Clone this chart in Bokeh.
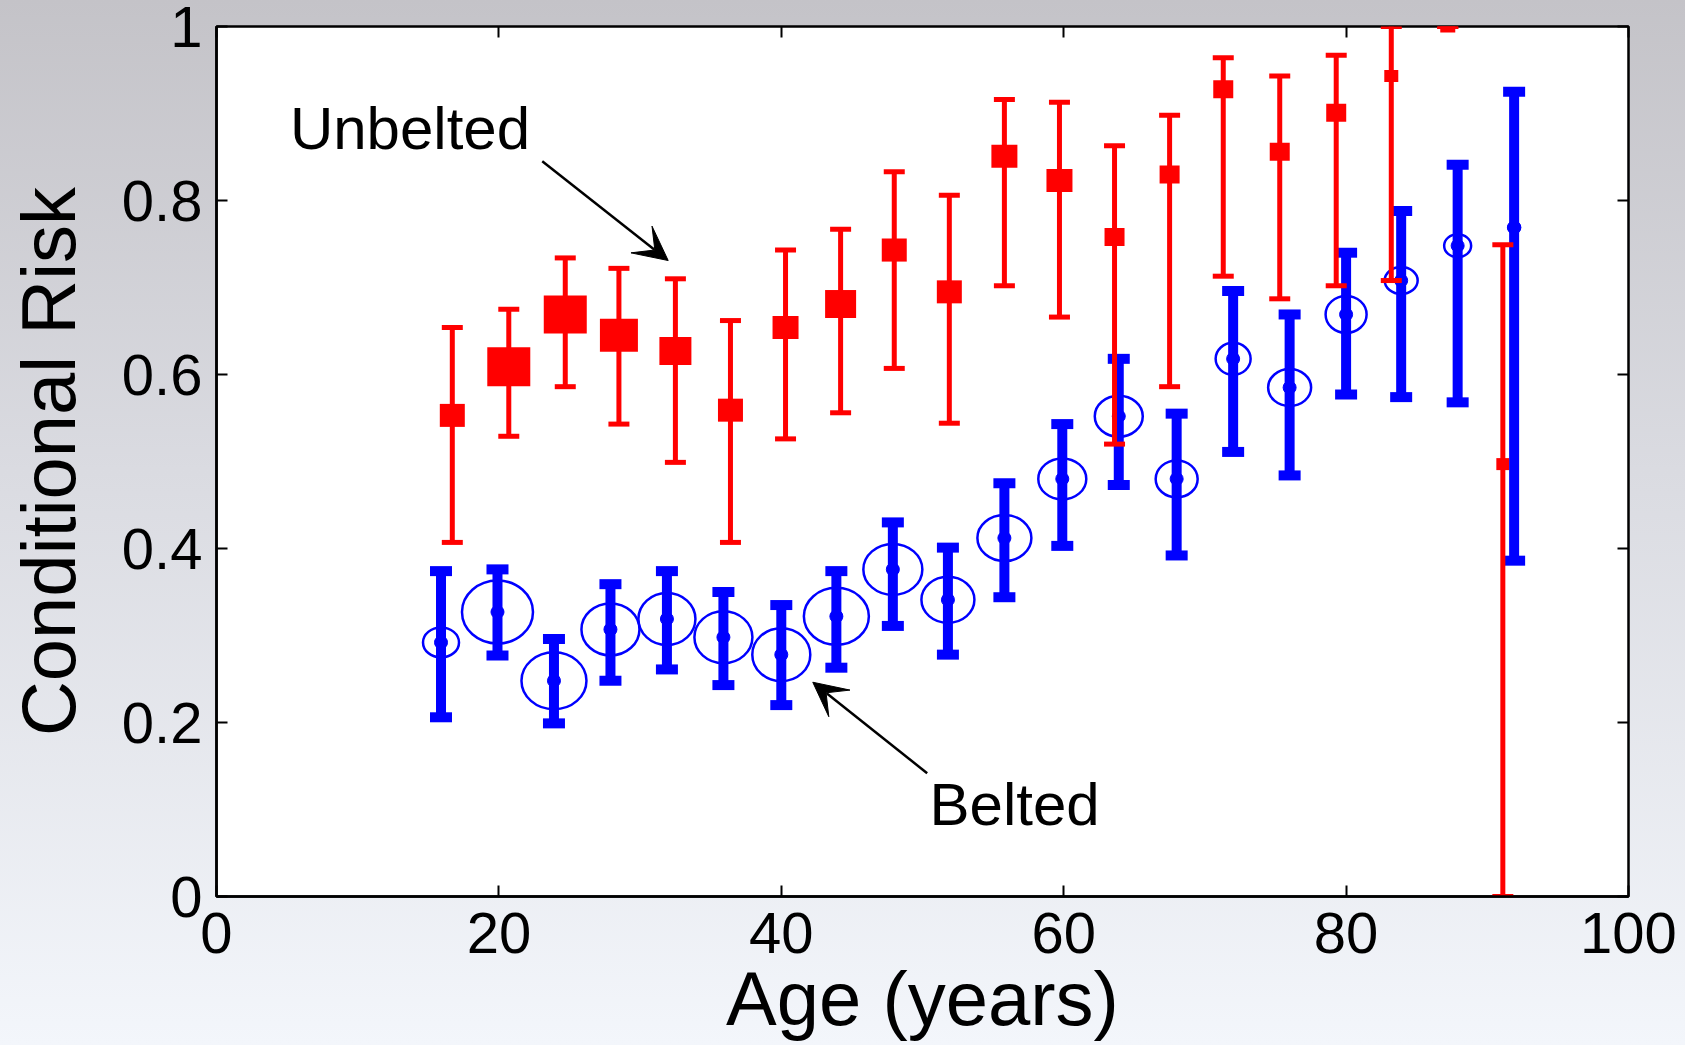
from bokeh.plotting import figure
from bokeh.models import (ColumnDataSource, Whisker, TeeHead, Arrow, VeeHead, Label,
                          LinearAxis, FixedTicker, CustomJSTickFormatter, Range1d)
from bokeh.embed import file_html
from bokeh.resources import INLINE

# ---------------- data ----------------
unbelted_age = [16.7, 20.7, 24.7, 28.5, 32.5, 36.4, 40.3, 44.2, 48.0, 51.9,
                55.8, 59.7, 63.6, 67.5, 71.3, 75.3, 79.3, 83.2, 87.2, 91.1]
unbelted_risk = [0.553, 0.609, 0.669, 0.645, 0.627, 0.559, 0.654, 0.681, 0.743, 0.695,
                 0.851, 0.823, 0.758, 0.830, 0.928, 0.856, 0.901, 0.943, 1.000, 0.497]
unbelted_upper = [0.654, 0.675, 0.734, 0.722, 0.710, 0.662, 0.743, 0.767, 0.833, 0.806,
                  0.916, 0.913, 0.863, 0.898, 0.964, 0.943, 0.967, 1.000, 1.000, 0.749]
unbelted_lower = [0.407, 0.529, 0.586, 0.543, 0.499, 0.407, 0.526, 0.556, 0.607, 0.544,
                  0.702, 0.666, 0.520, 0.586, 0.713, 0.687, 0.702, 0.708, 1.000, 0.000]
# marker size (screen px) encodes group size
unbelted_marker_w = [25, 43, 43, 38, 32, 25, 26, 31, 25, 25, 26, 26, 20, 20, 20, 20, 20, 14, 15, 13]
unbelted_marker_h = [23, 39, 38, 33, 28, 23, 23, 28, 23, 23, 23, 23, 18, 18, 18, 18, 18, 12, 12, 12]

belted_age = [15.9, 19.9, 23.9, 27.9, 31.9, 35.9, 40.0, 43.9, 47.9, 51.8,
              55.8, 59.9, 63.9, 68.0, 72.0, 76.0, 80.0, 83.9, 87.9, 91.9]
belted_risk = [0.292, 0.327, 0.248, 0.307, 0.319, 0.298, 0.278, 0.322, 0.376, 0.341,
               0.412, 0.480, 0.552, 0.480, 0.618, 0.585, 0.669, 0.708, 0.748, 0.769]
belted_upper = [0.374, 0.376, 0.296, 0.359, 0.374, 0.350, 0.335, 0.374, 0.430, 0.401,
                0.475, 0.543, 0.618, 0.555, 0.696, 0.669, 0.740, 0.788, 0.841, 0.925]
belted_lower = [0.206, 0.277, 0.199, 0.248, 0.261, 0.243, 0.220, 0.263, 0.311, 0.278,
                0.344, 0.403, 0.473, 0.392, 0.511, 0.484, 0.577, 0.574, 0.568, 0.386]
belted_circle_w = [36, 71, 65, 58, 57, 58, 58, 65, 59, 53, 54, 48, 48, 42, 35, 43, 41, 33, 27, 12]
belted_circle_h = [30, 63, 57, 52, 52, 52, 53, 57, 51, 46, 46, 41, 41, 37, 32, 37, 37, 27, 23, 11]

x_ticks = [0, 20, 40, 60, 80, 100]
x_tick_labels = ["0", "20", "40", "60", "80", "100"]
y_ticks = [0, 0.2, 0.4, 0.6, 0.8, 1]
y_tick_labels = ["0", "0.2", "0.4", "0.6", "0.8", "1"]

FONT = "Liberation Sans"

p = figure(width=1685, height=1045, x_range=Range1d(0, 100), y_range=Range1d(0, 1),
           output_backend="svg", toolbar_location=None,
           min_border_left=216, min_border_right=57, min_border_top=26, min_border_bottom=149,
           background_fill_color="white", border_fill_color=None)
p.styles = {"background": "linear-gradient(to bottom, #c4c3c8 0%, #dadbe1 45%, #f3f6fb 100%)"}
p.grid.visible = False
p.outline_line_color = "black"
p.outline_line_width = 2.5

xa = p.xaxis[0]
ya = p.yaxis[0]
xa.ticker = FixedTicker(ticks=x_ticks)
ya.ticker = FixedTicker(ticks=y_ticks)
xa.major_label_overrides = {t: l for t, l in zip(x_ticks, x_tick_labels)}
ya.major_label_overrides = {t: l for t, l in zip(y_ticks, y_tick_labels)}
xa.axis_label = "Age (years)"
ya.axis_label = "Conditional Risk"
for ax in (xa, ya):
    ax.axis_line_width = 2.5
    ax.axis_line_color = "black"
    ax.major_tick_in = 11
    ax.major_tick_out = 0
    ax.major_tick_line_width = 2
    ax.major_tick_line_color = "black"
    ax.minor_tick_line_color = None
    ax.major_label_text_font = FONT
    ax.major_label_text_font_size = "58px"
    ax.major_label_text_color = "black"
    ax.axis_label_text_font = FONT
    ax.axis_label_text_font_size = "76px"
    ax.axis_label_text_font_style = "normal"
    ax.axis_label_text_color = "black"
xa.major_label_standoff = 16
xa.axis_label_standoff = 0
ya.major_label_standoff = 14
ya.axis_label_standoff = 28

# tick marks on the top and right edges (box)
blank = CustomJSTickFormatter(code="return ''")
top_ax = LinearAxis(ticker=FixedTicker(ticks=x_ticks), formatter=blank,
                    major_tick_in=11, major_tick_out=0, major_tick_line_width=2,
                    minor_tick_line_color=None, axis_line_color=None,
                    major_label_standoff=0, major_label_text_font_size="1px")
right_ax = LinearAxis(ticker=FixedTicker(ticks=y_ticks), formatter=blank,
                      major_tick_in=11, major_tick_out=0, major_tick_line_width=2,
                      minor_tick_line_color=None, axis_line_color=None,
                      major_label_standoff=0, major_label_text_font_size="1px")
p.add_layout(top_ax, "above")
p.add_layout(right_ax, "right")

blue_src = ColumnDataSource(dict(age=belted_age, risk=belted_risk, upper=belted_upper,
                                 lower=belted_lower, w=belted_circle_w, h=belted_circle_h))
red_src = ColumnDataSource(dict(age=unbelted_age, risk=unbelted_risk, upper=unbelted_upper,
                                lower=unbelted_lower, w=unbelted_marker_w, h=unbelted_marker_h))

# belted (blue)
p.ellipse(x="age", y="risk", width="w", height="h", width_units="screen", height_units="screen",
          source=blue_src, fill_color=None, line_color="#0000ff", line_width=2.5)
p.scatter(x="age", y="risk", size=13, marker="circle", fill_color="#0000ff",
          line_color="#0000ff", source=blue_src)
blue_w = Whisker(source=blue_src, base="age", upper="upper", lower="lower", dimension="height",
                 line_color="#0000ff", line_width=10, level="glyph",
                 upper_head=TeeHead(size=22, line_color="#0000ff", line_width=10),
                 lower_head=TeeHead(size=22, line_color="#0000ff", line_width=10))
p.add_layout(blue_w)

# unbelted (red)
p.rect(x="age", y="risk", width="w", height="h", width_units="screen", height_units="screen",
       source=red_src, fill_color="#ff0000", line_color=None)
red_w = Whisker(source=red_src, base="age", upper="upper", lower="lower", dimension="height",
                line_color="#ff0000", line_width=5, level="glyph",
                upper_head=TeeHead(size=21, line_color="#ff0000", line_width=5),
                lower_head=TeeHead(size=21, line_color="#ff0000", line_width=5))
p.add_layout(red_w)

# annotations
p.add_layout(Label(x=5.2, y=0.883, text="Unbelted", text_font=FONT, text_font_size="60px",
                   text_color="black", text_align="left", text_baseline="alphabetic"))
p.add_layout(Label(x=50.5, y=0.106, text="Belted", text_font=FONT, text_font_size="60px",
                   text_color="black", text_align="left", text_baseline="alphabetic"))
p.add_layout(Arrow(x_start=23.07, y_start=0.845, x_end=31.99, y_end=0.731,
                   line_color="black", line_width=2.5,
                   end=VeeHead(size=34, fill_color="black", line_color="black")))
p.add_layout(Arrow(x_start=50.33, y_start=0.1417, x_end=42.23, y_end=0.2463,
                   line_color="black", line_width=2.5,
                   end=VeeHead(size=34, fill_color="black", line_color="black")))

open("out.html", "w").write(file_html(p, INLINE, title="Conditional Risk vs Age"))
